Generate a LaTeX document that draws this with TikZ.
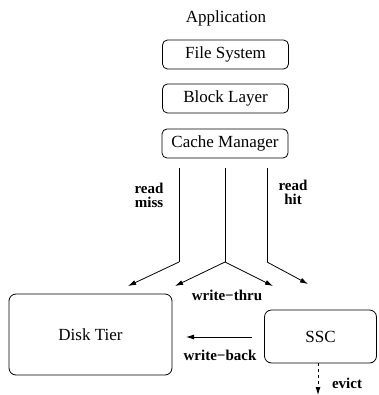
\documentclass[tikz,border=0pt]{standalone}
\usepackage{fontspec}
\setmainfont{Liberation Serif}
\usetikzlibrary{arrows.meta}
\begin{document}
\begin{tikzpicture}[x=1pt,y=-1pt,
  layer/.style={draw,rounded corners=5pt,line width=0.8pt,minimum width=126pt,minimum height=29pt,inner sep=0pt,font=\fontsize{17}{18}\selectfont},
  tier/.style={draw,rounded corners=7pt,line width=0.8pt,inner sep=0pt,font=\fontsize{17}{18}\selectfont},
  lbl/.style={font=\fontsize{15}{13.5}\selectfont\bfseries,align=center,inner sep=0pt},
  conn/.style={line width=0.8pt},
  arr/.style={line width=0.8pt,-{Latex[length=8pt,width=5pt]}}]
\useasboundingbox (0,0) rectangle (378,395);
\node[font=\fontsize{17}{18}\selectfont] (app) at (226,18) {Application};
\node[layer] (fs) at (225.5,54.5) {File System};
\node[layer] (bl) at (225.5,98.5) {Block Layer};
\node[layer] (cm) at (225,143.5) {Cache Manager};
\node[tier,minimum width=163pt,minimum height=81pt] (disk) at (90.5,334.5) {Disk Tier};
\node[tier,minimum width=112pt,minimum height=53pt] (ssc) at (320.5,336.5) {SSC};
% connector points
\coordinate (l0) at (179,168);
\coordinate (l1) at (179,262);
\coordinate (l2) at (128,286);
\coordinate (m0) at (225,168);
\coordinate (m1) at (225,262);
\coordinate (m2) at (175,286);
\coordinate (m3) at (273,286);
\coordinate (r0) at (267,168);
\coordinate (r1) at (267,262);
\coordinate (r2) at (308,284);
\coordinate (wb0) at (252,337);
\coordinate (wb1) at (186,337);
\coordinate (ev0) at (318,363);
\coordinate (ev1) at (318,395);
\draw[conn] (l0) -- (l1);
\draw[arr] (l1) -- (l2);
\draw[conn] (m0) -- (m1);
\draw[arr] (m1) -- (m2);
\draw[arr] (m1) -- (m3);
\draw[conn] (r0) -- (r1);
\draw[arr] (r1) -- (r2);
\draw[arr] (wb0) -- (wb1);
\draw[arr,dash pattern=on 3pt off 3pt] (ev0) -- (ev1);
\node[lbl] (rm) at (149,195.5) {read\\miss};
\node[lbl] (rh) at (293,192.5) {read\\hit};
\node[lbl] (wt) at (227,295) {write−thru};
\node[lbl] (wbl) at (220,355) {write−back};
\node[lbl] (evl) at (347,383) {evict};
\end{tikzpicture}
\end{document}
